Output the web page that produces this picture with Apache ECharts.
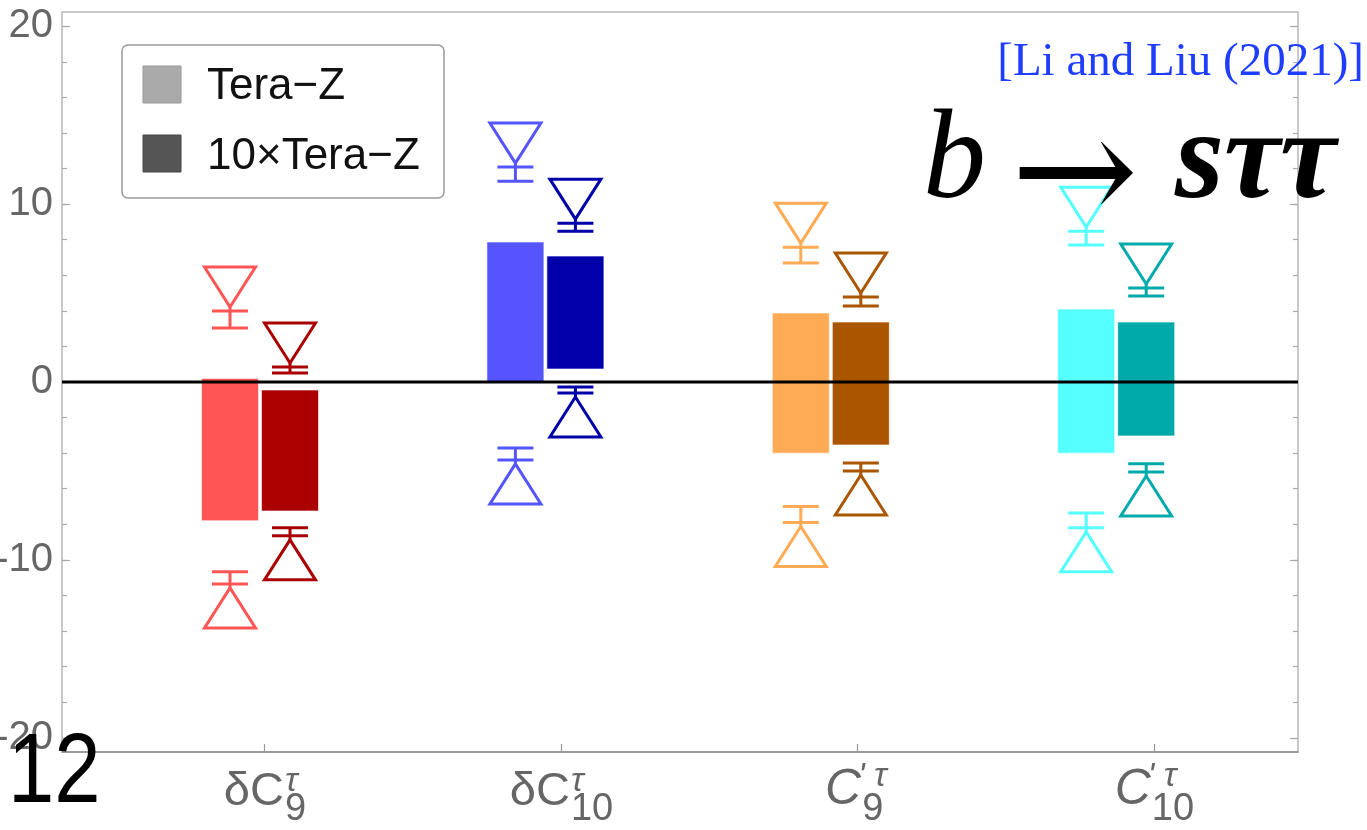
<!DOCTYPE html>
<html>
<head>
<meta charset="utf-8">
<script src="https://cdn.jsdelivr.net/npm/echarts@6/dist/echarts.min.js"></script>
<style>
  html, body { margin: 0; padding: 0; background: #ffffff; }
  #chart { width: 1367px; height: 830px; }
</style>
</head>
<body>
<div id="chart"></div>
<script>
// Wilson coefficients along the horizontal axis (main symbol, subscript, superscript)
const tickMain = ['δC', 'δC', 'C', 'C'];
const tickSub = ['9', '10', '9', '10'];
const tickSup = ['τ', 'τ', "' τ", "' τ"];

// Luminosity scenarios
const scenarios = ['Tera−Z', '10×Tera−Z'];

// Sensitivity bands [low, high] per coefficient
const teraZBand = [[-7.8, 0.2], [0, 7.87], [-4.0, 3.88], [-4.0, 4.1]];
const teraZ10Band = [[-7.25, -0.45], [0.73, 7.08], [-3.54, 3.37], [-3.03, 3.37]];

// Upper limit markers [tip, base] per coefficient
const teraZUpper = [[3.99, 3.03], [12.08, 11.29], [7.58, 6.69], [8.48, 7.70]];
const teraZ10Upper = [[0.84, 0.51], [8.93, 8.48], [4.78, 4.27], [5.28, 4.83]];

// Lower limit markers [tip, base] per coefficient
const teraZLower = [[-11.35, -10.67], [-4.38, -3.71], [-7.90, -7.00], [-8.2, -7.36]];
const teraZ10Lower = [[-8.65, -8.2], [-0.62, -0.28], [-5.0, -4.55], [-5.06, -4.6]];

// Axis ticks
const yMajorTicks = [-20, -10, 0, 10, 20];
const yMinorTicks = [-20, -18, -16, -14, -12, -10, -8, -6, -4, -2, 0, 2, 4, 6, 8, 10, 12, 14, 16, 18, 20];

// ---- styling ----
const PALETTE = [
  ['#ff5555', '#aa0000'],
  ['#5555ff', '#0000aa'],
  ['#ffaa55', '#aa5500'],
  ['#55ffff', '#00aaaa']
];
const Y_MIN = -20.8, Y_MAX = 20.8;
const X_MIN = 0.317, X_MAX = 4.486;          // label axis
const SLOT_MIN = 0.3062, SLOT_MAX = 4.637;   // bar slot axis
const BAR_W = 57, BAR_GAP = 3;
const SANS = '"Liberation Sans", Arial, Helvetica, sans-serif';
const SERIF = '"Liberation Serif", "Times New Roman", serif';

const measureCtx = document.createElement('canvas').getContext('2d');
function textWidth(str, font) { measureCtx.font = font; return measureCtx.measureText(str).width; }

function slotX(pt, scen) { return pt[0] + (scen === 0 ? -1 : 1) * (BAR_W + BAR_GAP) / 2; }

function bandData(bands) {
  return bands.map((b, k) => [k + 1, b[0], b[1], k]);
}
function limitData(upper, lower) {
  const out = [];
  upper.forEach((m, k) => out.push([k + 1, m[0], m[1], 1, k]));
  lower.forEach((m, k) => out.push([k + 1, m[0], m[1], -1, k]));
  return out;
}

function renderBand(scen) {
  return function (params, api) {
    const slot = api.value(0), k = api.value(3);
    const top = api.coord([slot, api.value(2)]);
    const bot = api.coord([slot, api.value(1)]);
    const cx = slotX(top, scen);
    return {
      type: 'rect',
      shape: { x: cx - BAR_W / 2, y: top[1], width: BAR_W, height: bot[1] - top[1] },
      style: { fill: PALETTE[k][scen], stroke: 'rgba(255,255,255,0.6)', lineWidth: 1 }
    };
  };
}

function renderLimit(scen) {
  return function (params, api) {
    const slot = api.value(0), dir = api.value(3), k = api.value(4);
    const pTip = api.coord([slot, api.value(1)]);
    const pBase = api.coord([slot, api.value(2)]);
    const cx = slotX(pTip, scen);
    const away = dir > 0 ? -1 : 1;
    const apex = pTip[1] + away * 4;
    const triBase = apex + away * 40;
    const st = { stroke: PALETTE[k][scen], lineWidth: 3, fill: 'none', lineJoin: 'miter' };
    return {
      type: 'group',
      children: [
        { type: 'polygon', shape: { points: [[cx - 25.5, triBase], [cx + 25.5, triBase], [cx, apex]] }, style: st },
        { type: 'line', shape: { x1: cx, y1: apex, x2: cx, y2: pBase[1] }, style: st },
        { type: 'line', shape: { x1: cx - 18, y1: pTip[1], x2: cx + 18, y2: pTip[1] }, style: st },
        { type: 'line', shape: { x1: cx - 18, y1: pBase[1], x2: cx + 18, y2: pBase[1] }, style: st }
      ]
    };
  };
}

// Coefficient labels with stacked sub/superscripts under each tick
function renderTickLabel(params, api) {
  const i = params.dataIndex;
  const p = api.coord([api.value(0), Y_MIN]);
  const primed = tickMain[i] === 'C';
  const mainSize = primed ? 50 : 47, subSize = 38, supSize = 34;
  const mainFont = (primed ? 'italic ' : '') + mainSize + 'px ' + SANS;
  const subFont = subSize + 'px ' + SANS;
  const supFont = 'italic ' + supSize + 'px ' + SANS;
  const mainW = textWidth(tickMain[i], mainFont);
  const subW = textWidth(tickSub[i], subFont);
  const supW = textWidth(tickSup[i], supFont);
  const total = mainW + Math.max(subW, supW);
  const x0 = p[0] - total / 2;
  const color = '#666666';
  const mainBase = p[1] + 56, subBase = p[1] + 71, supBase = p[1] + (primed ? 36 : 41);
  const mk = (text, x, base, font, size) => ({
    type: 'text', x: x, y: base - 0.35 * size,
    style: { text: text, font: font, fill: color, align: 'left', verticalAlign: 'middle' }
  });
  return {
    type: 'group',
    children: [
      mk(tickMain[i], x0, mainBase, mainFont, mainSize),
      mk(tickSub[i], x0 + mainW + 1, subBase, subFont, subSize),
      mk(tickSup[i], x0 + mainW + (primed ? -3 : 1), supBase, supFont, supSize)
    ]
  };
}

const chart = echarts.init(document.getElementById('chart'), null, { renderer: 'canvas' });

const yBase = {
  type: 'value', min: Y_MIN, max: Y_MAX, splitLine: { show: false },
  axisLine: { show: false }, axisLabel: { show: false }
};

chart.setOption({
  animation: false,
  backgroundColor: '#ffffff',
  grid: {
    left: 62, top: 12, right: 69, bottom: 78,
    outerBoundsMode: 'none', containLabel: false,
    show: true, borderColor: '#b8b8b8', borderWidth: 1.5, backgroundColor: 'transparent'
  },
  xAxis: [
    {
      type: 'value', min: X_MIN, max: X_MAX, position: 'bottom',
      axisLine: { show: true, onZero: false, lineStyle: { color: '#8c8c8c', width: 1.5 } },
      axisTick: { show: true, inside: true, length: 8, customValues: [1, 2, 3, 4], lineStyle: { color: '#999', width: 1.2 } },
      axisLabel: { show: false },
      splitLine: { show: false }
    },
    { type: 'value', min: SLOT_MIN, max: SLOT_MAX, show: false }
  ],
  yAxis: [
    Object.assign({}, yBase, {
      position: 'left',
      axisTick: { show: true, inside: true, length: 8, customValues: yMajorTicks, lineStyle: { color: '#aaa', width: 1.2 } },
      axisLabel: {
        show: true, customValues: yMajorTicks, margin: 9, color: '#666666',
        fontSize: 40, fontFamily: SANS
      }
    }),
    Object.assign({}, yBase, {
      position: 'left',
      axisTick: { show: true, inside: true, length: 5, customValues: yMinorTicks, lineStyle: { color: '#aaa', width: 1.2 } }
    }),
    Object.assign({}, yBase, {
      position: 'right',
      axisTick: { show: true, inside: true, length: 8, customValues: yMajorTicks, lineStyle: { color: '#aaa', width: 1.2 } }
    }),
    Object.assign({}, yBase, {
      position: 'right',
      axisTick: { show: true, inside: true, length: 5, customValues: yMinorTicks, lineStyle: { color: '#aaa', width: 1.2 } }
    })
  ],
  series: [
    {
      name: scenarios[0], type: 'custom', xAxisIndex: 1, yAxisIndex: 0, z: 2,
      renderItem: renderBand(0), data: bandData(teraZBand), encode: { x: 0, y: [1, 2] }
    },
    {
      name: scenarios[1], type: 'custom', xAxisIndex: 1, yAxisIndex: 0, z: 2,
      renderItem: renderBand(1), data: bandData(teraZ10Band), encode: { x: 0, y: [1, 2] }
    },
    {
      name: scenarios[0] + ' limits', type: 'custom', xAxisIndex: 1, yAxisIndex: 0, z: 3,
      renderItem: renderLimit(0), data: limitData(teraZUpper, teraZLower), encode: { x: 0, y: [1, 2] }
    },
    {
      name: scenarios[1] + ' limits', type: 'custom', xAxisIndex: 1, yAxisIndex: 0, z: 3,
      renderItem: renderLimit(1), data: limitData(teraZ10Upper, teraZ10Lower), encode: { x: 0, y: [1, 2] }
    },
    {
      name: 'zero', type: 'line', xAxisIndex: 0, yAxisIndex: 0, z: 4,
      data: [[X_MIN, 0], [X_MAX, 0]], symbol: 'none',
      lineStyle: { color: '#000000', width: 3.2 }
    },
    {
      name: 'coefficient labels', type: 'custom', xAxisIndex: 0, yAxisIndex: 0, z: 5, clip: false,
      renderItem: renderTickLabel,
      data: tickMain.map((t, i) => [i + 1, Y_MIN])
    }
  ],
  graphic: [
    // legend box
    { type: 'rect', z: 50, shape: { x: 122, y: 45, width: 322, height: 153, r: 6 }, style: { fill: '#ffffff', stroke: '#9a9a9a', lineWidth: 1.5 } },
    { type: 'rect', z: 51, shape: { x: 143, y: 66, width: 38, height: 37 }, style: { fill: '#aaaaaa', stroke: '#999999', lineWidth: 1 } },
    { type: 'rect', z: 51, shape: { x: 143, y: 135, width: 38, height: 37 }, style: { fill: '#555555', stroke: '#474747', lineWidth: 1 } },
    { type: 'text', z: 51, x: 207, y: 102 - 0.35 * 44, style: { text: scenarios[0], font: '44px ' + SANS, fill: '#111', verticalAlign: 'middle' } },
    { type: 'text', z: 51, x: 207, y: 172 - 0.35 * 44, style: { text: scenarios[1], font: '44px ' + SANS, fill: '#111', verticalAlign: 'middle' } },
    // reference tag
    {
      type: 'text', z: 60, x: 1364, y: 79 - 0.34 * 47,
      style: { text: '[Li and Liu (2021)]', font: '47px ' + SERIF, fill: '#1f3dff', align: 'right', verticalAlign: 'middle' }
    },
    // process label
    {
      type: 'text', z: 60, x: 923, y: 207 - 0.34 * 126,
      style: { text: 'b', font: 'italic 126px ' + SERIF, fill: '#000', align: 'left', verticalAlign: 'middle' }
    },
    {
      type: 'text', z: 60, x: 1011, y: 183,
      style: { text: '→', font: '152px "DejaVu Serif", ' + SERIF, fill: '#000', align: 'left', verticalAlign: 'middle' }
    },
    {
      type: 'text', z: 60, x: 1175, y: 207 - 0.34 * 126,
      style: { text: 'sττ', font: 'italic bold 126px ' + SERIF, fill: '#000', align: 'left', verticalAlign: 'middle' }
    },
    // page number
    {
      type: 'text', z: 70, x: 8, y: 809 - 0.35 * 98, scaleX: 0.85,
      style: { text: '12', font: '98px ' + SANS, fill: '#000', align: 'left', verticalAlign: 'middle' }
    }
  ]
});
</script>
</body>
</html>
